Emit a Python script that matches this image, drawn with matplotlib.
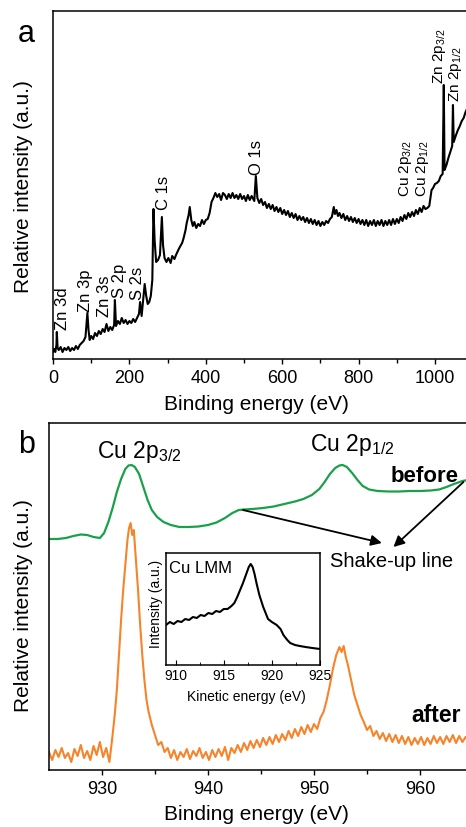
import matplotlib
matplotlib.use('Agg')
import numpy as np
import matplotlib.pyplot as plt

plt.rcParams['font.family'] = ['Liberation Sans', 'DejaVu Sans']
plt.rcParams['mathtext.fontset'] = 'custom'
plt.rcParams['mathtext.rm'] = 'Liberation Sans'
plt.rcParams['mathtext.default'] = 'regular'

# survey spectrum (panel a)
survey_be = [0, 3, 6, 9, 10, 12, 15, 20, 25, 30, 35, 40, 45, 50, 55, 60, 65, 70, 75, 80, 85,
             90, 93, 96, 100, 105, 110, 115, 120, 125, 130, 135, 140, 145, 150, 155, 160, 162,
             165, 170, 175, 180, 185, 190, 195, 200, 205, 210, 215, 220, 225, 228, 232, 236,
             240, 244, 248, 252, 256, 260, 263, 266, 270, 275, 280, 285, 288, 292, 297, 302,
             308, 312, 318, 322, 328, 332, 338, 342, 347, 350, 355, 358, 362, 366, 370, 375,
             380, 385, 390, 395, 400, 405, 410, 415, 420, 425, 430, 435, 440, 445, 450, 455,
             460, 465, 470, 475, 480, 485, 490, 495, 500, 505, 510, 515, 520, 527, 531, 535,
             540, 545, 550, 555, 560, 565, 570, 575, 580, 585, 590, 595, 600, 605, 610, 615,
             620, 625, 630, 635, 640, 645, 650, 655, 660, 665, 670, 675, 680, 685, 690, 695,
             700, 705, 710, 715, 720, 725, 730, 735, 738, 742, 746, 750, 755, 760, 765, 770,
             775, 780, 785, 790, 795, 800, 805, 810, 815, 820, 825, 830, 835, 840, 845, 850,
             855, 860, 865, 870, 875, 880, 885, 890, 895, 900, 905, 910, 915, 920, 925, 930,
             935, 940, 945, 950, 955, 960, 965, 970, 975, 980, 985, 988, 991, 995, 1000, 1005,
             1010, 1015, 1020, 1023, 1025, 1030, 1035, 1040, 1045, 1047, 1049, 1055, 1060,
             1065, 1070, 1075, 1080, 1085]
survey_int = [7, 10, 7, 14, 27, 11, 9, 12, 7, 11, 9, 12, 8, 11, 9, 13, 10, 14, 16, 18, 22,
              46, 29, 19, 23, 20, 26, 23, 28, 25, 30, 27, 35, 28, 32, 29, 34, 59,
              33, 38, 35, 41, 36, 39, 35, 38, 36, 40, 37, 41, 45, 57, 43, 59,
              75, 63, 55, 57, 63, 79, 150, 119, 97, 99, 104, 142, 114, 101, 97, 101,
              96, 103, 100, 104, 109, 112, 116, 121, 129, 136, 144, 152, 139, 133, 137, 131,
              135, 133, 139, 135, 139, 140, 146, 157, 161, 166, 162, 165, 159, 166, 164, 160,
              165, 161, 166, 161, 164, 160, 165, 160, 163, 158, 164, 159, 163, 158, 183, 161,
              156, 160, 154, 157, 151, 155, 150, 154, 148, 152, 147, 151, 145, 149, 144, 148,
              142, 146, 141, 145, 139, 143, 139, 142, 137, 141, 136, 140, 135, 139, 134, 138,
              133, 137, 134, 138, 136, 140, 142, 152, 145, 149, 143, 146, 141, 145, 139, 143,
              138, 142, 137, 141, 136, 140, 135, 139, 134, 139, 133, 138, 134, 139, 133, 138,
              134, 139, 133, 138, 134, 139, 134, 140, 135, 140, 136, 142, 138, 144, 140, 146,
              142, 147, 143, 149, 145, 151, 147, 153, 150, 151, 153, 161, 169, 171, 175, 176,
              178, 183, 185, 274, 189, 194, 201, 207, 213, 254, 217, 224, 229,
              233, 238, 241, 247, 251]

# Cu 2p region (panel b)
before_be = [925.0, 925.8, 926.6, 927.3, 928.0, 928.6, 929.2, 929.8, 930.2, 930.6, 931.0,
             931.4, 931.8, 932.2, 932.5, 932.8, 933.1, 933.5, 933.9, 934.3, 934.7, 935.2,
             935.8, 936.5, 937.3, 938.2, 939.1, 940.0, 940.8, 941.6, 942.3, 942.9, 943.4,
             944.2, 945.2, 946.2, 947.2, 948.2, 949.0, 949.8, 950.5, 951.0, 951.5, 952.0,
             952.4, 952.7, 953.1, 953.6, 954.1, 954.6, 955.2, 956.0, 957.0, 958.0, 959.0,
             960.0, 961.0, 961.8, 962.5, 963.2, 964.0, 965.0]
before_int = [231, 231, 232, 234, 235.5, 235, 233, 232, 237, 248, 262,
              278, 291, 301, 304.5, 305, 303, 296, 283, 270, 260, 253,
              248, 245, 243, 243, 243.5, 245, 247.5, 252, 257, 260, 260.5,
              261, 262, 263.5, 266, 268.5, 271, 275, 281, 288, 296, 302,
              304.5, 305, 303, 297, 290, 284, 280.5, 279, 278.5, 278.5, 279,
              279, 279.5, 280.5, 283, 286, 289, 291]

after_be = [925.0, 925.3, 925.6, 925.9, 926.2, 926.5, 926.8, 927.1, 927.4, 927.7, 928.0,
            928.3, 928.6, 928.9, 929.2, 929.5, 929.8, 930.1, 930.4, 930.7, 931.0, 931.2,
            931.4, 931.6, 931.8, 932.0, 932.2, 932.4, 932.55, 932.7, 932.85, 933.0, 933.2,
            933.4, 933.6, 933.8, 934.0, 934.2, 934.4, 934.7, 935.0, 935.3, 935.6, 935.9,
            936.2, 936.5, 936.8, 937.1, 937.4, 937.7, 938.0, 938.3, 938.6, 938.9, 939.2,
            939.5, 939.8, 940.1, 940.4, 940.7, 941.0, 941.3, 941.6, 941.9, 942.2, 942.5,
            942.8, 943.1, 943.4, 943.7, 944.0, 944.3, 944.6, 944.9, 945.2, 945.5, 945.8,
            946.1, 946.4, 946.7, 947.0, 947.3, 947.6, 947.9, 948.2, 948.5, 948.8, 949.1,
            949.4, 949.7, 950.0, 950.3, 950.6, 950.9, 951.2, 951.5, 951.8, 952.1, 952.4,
            952.6, 952.8, 953.0, 953.2, 953.5, 953.8, 954.1, 954.4, 954.7, 955.0, 955.3,
            955.6, 955.9, 956.2, 956.5, 956.8, 957.1, 957.4, 957.7, 958.0, 958.3, 958.6,
            958.9, 959.2, 959.5, 959.8, 960.1, 960.4, 960.7, 961.0, 961.3, 961.6, 961.9,
            962.2, 962.5, 962.8, 963.1, 963.4, 963.7, 964.0, 964.3, 964.6, 965.0]
after_int = [18, 10, 20, 13, 22, 12, 17, 8, 21, 14, 25,
             12, 19, 10, 24, 15, 28, 13, 22, 8, 35, 55,
             80, 115, 150, 180, 205, 230, 242, 247, 235, 240, 210,
             180, 145, 115, 90, 70, 58, 45, 35, 25, 28, 18,
             22, 12, 20, 10, 18, 13, 21, 11, 19, 14, 22,
             12, 18, 10, 20, 13, 21, 14, 23, 10, 22, 17,
             25, 18, 27, 20, 29, 22, 30, 23, 32, 25, 33,
             26, 35, 28, 36, 30, 39, 32, 41, 34, 43, 36,
             45, 38, 46, 41, 52, 58, 70, 85, 102, 115, 123,
             118, 124, 113, 105, 90, 75, 65, 55, 48, 40, 44,
             34, 39, 31, 37, 29, 36, 28, 35, 27, 34, 26,
             33, 25, 32, 26, 33, 25, 32, 26, 34, 27, 33,
             26, 34, 28, 35, 27, 34, 28, 33, 29, 32]

# Cu LMM Auger (inset)
lmm_ke = [909.0, 909.4, 909.8, 910.2, 910.6, 911.0, 911.4, 911.8, 912.2, 912.6, 913.0,
          913.4, 913.8, 914.2, 914.6, 915.0, 915.4, 915.8, 916.1, 916.4, 916.7, 917.0,
          917.3, 917.6, 917.8, 918.0, 918.2, 918.4, 918.7, 919.1, 919.6, 920.0, 920.5,
          920.9, 921.2, 921.6, 921.9, 922.4, 922.9, 923.5, 924.2, 925.0]
lmm_int = [40, 43, 41, 44, 43, 46, 45, 48, 47, 50, 49,
           52, 51, 54, 53, 56, 56, 59, 62, 68, 75, 82,
           90, 98, 101, 98, 91, 82, 70, 58, 46, 43, 40,
           36, 30, 25, 22, 20, 19, 18, 17, 16]

survey_labels = [('Zn 3d', 24, 29), ('Zn 3p', 84, 47), ('Zn 3s', 136, 42), ('S 2p', 173, 61),
                 ('S 2s', 222, 59), ('C 1s', 290, 149), ('O 1s', 534, 184)]
# crowded 2p labels near the right edge, set a bit smaller
survey_labels_2p = [('Cu 2p$_{3/2}$', 922, 162), ('Cu 2p$_{1/2}$', 967, 162),
                    ('Zn 2p$_{3/2}$', 1011, 275), ('Zn 2p$_{1/2}$', 1053, 257)]

W, H = 466, 827
fig = plt.figure(figsize=(W / 100, H / 100), dpi=100)


def style(ax):
    for s in ax.spines.values():
        s.set_linewidth(1.1)
    ax.set_yticks([])
    ax.tick_params(axis='x', which='major', direction='out', length=3.8, width=1.0,
                   labelsize=13, pad=4)
    ax.tick_params(axis='x', which='minor', direction='out', length=2.6, width=1.0)


# panel a
ax1 = fig.add_axes([53 / W, 1 - 359 / H, 1100 * 0.382 / W, 348 / H])
ax1.plot(survey_be, survey_int, color='black', lw=1.5)
ax1.set_xlim(0, 1100)
ax1.set_ylim(0, 348)
ax1.set_xticks([0, 200, 400, 600, 800, 1000])
ax1.set_xticks([100, 300, 500, 700, 900, 1100], minor=True)
style(ax1)
for txt, e, v in survey_labels:
    ax1.text(e, v, txt, rotation=90, ha='center', va='bottom', fontsize=12)
for txt, e, v in survey_labels_2p:
    ax1.text(e, v, txt, rotation=90, ha='center', va='bottom', fontsize=11)
fig.text(256 / W, 1 - 405 / H, 'Binding energy (eV)', ha='center', va='center', fontsize=15)
fig.text(24 / W, 1 - 187 / H, 'Relative intensity (a.u.)', rotation=90,
         ha='center', va='center', fontsize=15)
fig.text(18 / W, 1 - 42 / H, 'a', fontsize=22, ha='left', va='baseline')

# panel b
ax2 = fig.add_axes([49 / W, 1 - 770 / H, 42 * 10.6 / W, 347 / H])
ax2.plot(before_be, before_int, color='#1aa04a', lw=1.6)
ax2.plot(after_be, after_int, color='#f5842b', lw=1.5)
ax2.set_xlim(925, 967)
ax2.set_ylim(0, 347)
ax2.set_xticks([930, 940, 950, 960])
ax2.set_xticks([935, 945, 955, 965], minor=True)
style(ax2)
ax2.text(929.5, 312, 'Cu 2p$_{3/2}$', fontsize=16.5, ha='left', va='baseline')
ax2.text(949.6, 319, 'Cu 2p$_{1/2}$', fontsize=16.5, ha='left', va='baseline')
ax2.text(957.2, 288, 'before', fontsize=16, fontweight='bold', ha='left', va='baseline')
ax2.text(959.2, 48, 'after', fontsize=16.5, fontweight='bold', ha='left', va='baseline')
ax2.text(951.5, 203, 'Shake-up line', fontsize=14.5, ha='left', va='baseline')
arrow = dict(arrowstyle='-|>', color='black', lw=1.3, mutation_scale=16, shrinkA=0, shrinkB=0)
ax2.annotate('', xy=(956.4, 227), xytext=(943.3, 260), arrowprops=arrow)
ax2.annotate('', xy=(957.5, 223), xytext=(964.1, 288), arrowprops=arrow)
fig.text(256 / W, 1 - 815 / H, 'Binding energy (eV)', ha='center', va='center', fontsize=15)
fig.text(24 / W, 1 - 606 / H, 'Relative intensity (a.u.)', rotation=90,
         ha='center', va='center', fontsize=15)
fig.text(18 / W, 1 - 453 / H, 'b', fontsize=22, ha='left', va='baseline')

# inset
ax3 = fig.add_axes([166 / W, 1 - 665 / H, 154 / W, 112 / H])
ax3.plot(lmm_ke, lmm_int, color='black', lw=1.5)
ax3.set_xlim(909, 925)
ax3.set_ylim(0, 112)
ax3.set_yticks([])
ax3.set_xticks([910, 915, 920, 925])
ax3.set_xticks([912.5, 917.5, 922.5], minor=True)
ax3.tick_params(axis='x', which='both', direction='in', labelsize=10, pad=3)
ax3.tick_params(axis='x', which='major', length=3.5)
ax3.tick_params(axis='x', which='minor', length=2.5)
for s in ax3.spines.values():
    s.set_linewidth(1.1)
ax3.text(0.02, 0.82, 'Cu LMM', transform=ax3.transAxes, fontsize=12, ha='left', va='baseline')
fig.text(246 / W, 1 - 697 / H, 'Kinetic energy (eV)', ha='center', va='center', fontsize=10)
fig.text(156 / W, 1 - 604 / H, 'Intensity (a.u.)', rotation=90, ha='center', va='center',
         fontsize=10)

fig.savefig('out.png', dpi=100)
